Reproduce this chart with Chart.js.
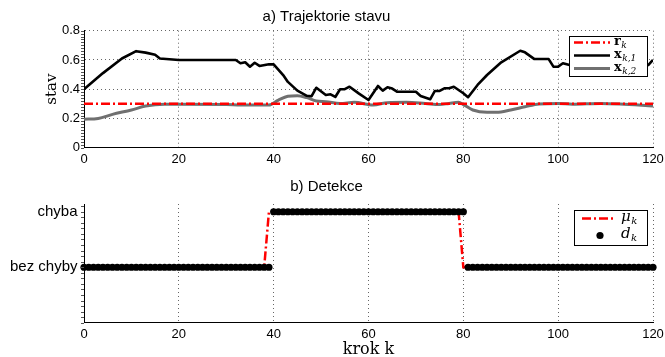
<!DOCTYPE html>
<html>
<head>
<meta charset="utf-8">
<script src="https://cdn.jsdelivr.net/npm/chart.js@4/dist/chart.umd.min.js"></script>
<style>
html,body{margin:0;padding:0;background:#fff;overflow:hidden;width:665px;height:357px;}
#w1{position:absolute;left:0;top:0;width:665px;height:175px;}
#w2{position:absolute;left:0;top:175px;width:665px;height:182px;}
</style>
</head>
<body>
<div id="w1"><canvas id="c1" width="665" height="175"></canvas></div>
<div id="w2"><canvas id="c2" width="665" height="182"></canvas></div>
<script>
// ---------- data (a) Trajektorie stavu ----------
const rSteps = [0, 120];
const rVals = [0.3, 0.3];
const x1Steps = [0,4,8,11,13,15,16,20,25,32,33,34,35,36,37,39,40,42,43,45,47,48,49,51,52,53,54,55,56,58,60,62,63,64,65,66,70,71,73,74,75,76,77,78,80,81,83,85,88,92,93,95,98,99,100,101,103,106,110,114,117,119,120];
const x1Vals = [0.40,0.51,0.61,0.66,0.65,0.635,0.61,0.60,0.60,0.60,0.577,0.584,0.554,0.581,0.559,0.57,0.57,0.497,0.45,0.39,0.355,0.352,0.41,0.36,0.365,0.347,0.40,0.40,0.417,0.37,0.326,0.422,0.39,0.413,0.404,0.383,0.383,0.354,0.331,0.388,0.388,0.406,0.406,0.417,0.372,0.345,0.429,0.497,0.584,0.663,0.652,0.606,0.606,0.554,0.554,0.577,0.56,0.57,0.56,0.57,0.55,0.565,0.60];
const x2Steps = [0,3,6,10,13,17,20,30,33,39,41,43,45,47,49,51,54,57,61,64,68,72,75,77,79,80,82,85,87,90,93,96,100,103,109,113,120];
const x2Vals = [0.195,0.20,0.228,0.258,0.285,0.297,0.297,0.296,0.292,0.292,0.326,0.352,0.356,0.342,0.319,0.315,0.303,0.31,0.292,0.308,0.31,0.302,0.295,0.303,0.31,0.295,0.258,0.242,0.242,0.258,0.28,0.299,0.303,0.297,0.303,0.299,0.285];
const stateTicksY = [0, 0.2, 0.4, 0.6, 0.8];

// ---------- data (b) Detekce ----------
const detSteps = Array.from({length: 121}, (_, i) => i);
const dVals = [
 0,0,0,0,0,0,0,0,0,0, 0,0,0,0,0,0,0,0,0,0, 0,0,0,0,0,0,0,0,0,0, 0,0,0,0,0,0,0,0,0,0,
 1,1,1,1,1,1,1,1,1,1, 1,1,1,1,1,1,1,1,1,1, 1,1,1,1,1,1,1,1,1,1, 1,1,1,1,1,1,1,1,1,1, 1,
 0,0,0,0,0,0,0,0,0,0, 0,0,0,0,0,0,0,0,0,0, 0,0,0,0,0,0,0,0,0,0, 0,0,0,0,0,0,0,0,0,0
];
const muVals = [
 0,0,0,0,0,0,0,0,0,0, 0,0,0,0,0,0,0,0,0,0, 0,0,0,0,0,0,0,0,0,0, 0,0,0,0,0,0,0,0,0,
 1,1,1,1,1,1,1,1,1,1, 1,1,1,1,1,1,1,1,1,1, 1,1,1,1,1,1,1,1,1,1, 1,1,1,1,1,1,1,1,1,1, 1,
 0,0,0,0,0,0,0,0,0,0, 0,0,0,0,0,0,0,0,0,0, 0,0,0,0,0,0,0,0,0,0, 0,0,0,0,0,0,0,0,0,0, 0
];
const detCategories = ['bez chyby', 'chyba'];
const xTicks = [0, 20, 40, 60, 80, 100, 120];

// ---------- helpers ----------
const zip = (xs, ys) => xs.map((x, i) => ({x: x, y: ys[i]}));
const SANS = '"Liberation Sans", Arial, sans-serif';
const SERIF = '"DejaVu Serif", "Liberation Serif", serif';
const RED = '#ff0000';
const DASHDOT = [9, 3, 2, 3];
const GRID = '#666666';

function labelWithSub(ctx, x, y, base, baseFont, sub, subFont) {
  ctx.font = baseFont;
  ctx.textAlign = 'left';
  ctx.textBaseline = 'middle';
  ctx.fillStyle = '#000';
  ctx.fillText(base, x, y);
  const w = ctx.measureText(base).width;
  ctx.font = subFont;
  ctx.fillText(sub, x + w + 0.5, y + 4);
}

const minorTicks = {
  id: 'minorTicks',
  afterDraw(chart, args, opts) {
    const ys = chart.scales.y;
    const ctx = chart.ctx;
    ctx.save();
    ctx.strokeStyle = '#555';
    ctx.lineWidth = 1;
    ctx.beginPath();
    const n = Math.round((opts.max - opts.min) / opts.step);
    for (let i = 0; i <= n; i++) {
      const v = opts.min + i * opts.step;
      const py = Math.round(ys.getPixelForValue(v)) + 0.5;
      ctx.moveTo(ys.right - 3, py);
      ctx.lineTo(ys.right, py);
    }
    ctx.stroke();
    ctx.restore();
  }
};

const legendTop = {
  id: 'legendTop',
  afterDraw(chart) {
    const ctx = chart.ctx;
    ctx.save();
    ctx.fillStyle = '#fff';
    ctx.fillRect(569.5, 36.5, 78, 40);
    ctx.strokeStyle = '#000';
    ctx.lineWidth = 1;
    ctx.strokeRect(569.5, 36.5, 78, 40);
    const rows = [42.5, 55.5, 68.5];
    const ds = chart.data.datasets;
    const subs = ['k', 'k,1', 'k,2'];
    const bases = ['r', 'x', 'x'];
    for (let i = 0; i < 3; i++) {
      ctx.beginPath();
      ctx.strokeStyle = ds[i].borderColor;
      ctx.lineWidth = ds[i].borderWidth;
      ctx.setLineDash(ds[i].borderDash || []);
      ctx.moveTo(574, rows[i]);
      ctx.lineTo(610, rows[i]);
      ctx.stroke();
      ctx.setLineDash([]);
      labelWithSub(ctx, 614, rows[i] - 1, bases[i], 'bold 13px ' + SERIF, subs[i], 'italic 9px ' + SERIF);
    }
    ctx.restore();
  }
};

const legendBottom = {
  id: 'legendBottom',
  afterDraw(chart) {
    const ctx = chart.ctx;
    ctx.save();
    ctx.fillStyle = '#fff';
    ctx.fillRect(574.5, 35.5, 73, 35);
    ctx.strokeStyle = '#000';
    ctx.lineWidth = 1;
    ctx.strokeRect(574.5, 35.5, 73, 35);
    ctx.beginPath();
    ctx.strokeStyle = RED;
    ctx.lineWidth = 2.5;
    ctx.setLineDash(DASHDOT);
    ctx.moveTo(582, 43.5);
    ctx.lineTo(613, 43.5);
    ctx.stroke();
    ctx.setLineDash([]);
    labelWithSub(ctx, 621, 42.5, 'μ', 'italic 15px ' + SERIF, 'k', 'italic 10px ' + SERIF);
    ctx.beginPath();
    ctx.fillStyle = '#000';
    ctx.arc(600, 60.5, 3.6, 0, Math.PI * 2);
    ctx.fill();
    labelWithSub(ctx, 621, 59.5, 'd', 'italic 15px ' + SERIF, 'k', 'italic 10px ' + SERIF);
    ctx.restore();
  }
};

function xScale(height) {
  return {
    type: 'linear', min: 0, max: 120,
    afterBuildTicks: s => { s.ticks = xTicks.map(v => ({value: v})); },
    ticks: {font: {family: SANS, size: 13}, color: '#000', padding: 4, maxRotation: 0, autoSkip: false},
    grid: {color: GRID, lineWidth: 1, drawTicks: false},
    border: {display: true, color: '#000', width: 1, dash: [1, 3]},
    afterFit: s => { s.height = height; s.paddingLeft = 0; s.paddingRight = 0; }
  };
}

// ---------- chart (a) ----------
new Chart(document.getElementById('c1'), {
  type: 'line',
  data: {
    datasets: [
      {label: 'r_k', data: zip(rSteps, rVals), borderColor: RED, borderWidth: 2.5, borderDash: DASHDOT, pointRadius: 0, order: 0},
      {label: 'x_{k,1}', data: zip(x1Steps, x1Vals), borderColor: '#000', borderWidth: 2.6, borderJoinStyle: 'round', pointRadius: 0, order: 1},
      {label: 'x_{k,2}', data: zip(x2Steps, x2Vals), borderColor: '#707070', borderWidth: 3, cubicInterpolationMode: 'monotone', pointRadius: 0, order: 2}
    ]
  },
  options: {
    responsive: false, animation: false, devicePixelRatio: 1,
    layout: {padding: {left: 0, right: 12, top: 0, bottom: 0}},
    plugins: {
      legend: {display: false}, tooltip: {enabled: false},
      title: {display: true, text: 'a) Trajektorie stavu', color: '#000', font: {family: SANS, size: 15, weight: 'normal', lineHeight: 1.2}, padding: {top: 8, bottom: 4.7}},
      minorTicks: {min: 0, max: 0.8, step: 0.02}
    },
    scales: {
      x: xScale(27.3),
      y: {
        type: 'linear', min: 0, max: 0.8,
        afterBuildTicks: s => { s.ticks = stateTicksY.map(v => ({value: v})); },
        ticks: {font: {family: SANS, size: 13}, color: '#000', padding: 4},
        grid: {color: GRID, lineWidth: 1, drawTicks: false},
        border: {display: true, color: '#000', width: 1, dash: [1, 3]},
        title: {display: true, text: 'stav', color: '#000', font: {family: SERIF, size: 15, lineHeight: 1.2}, padding: {top: 43, bottom: 0}},
        afterFit: s => { s.width = 84; s.paddingTop = 0; s.paddingBottom = 0; }
      }
    }
  },
  plugins: [minorTicks, legendTop]
});

// ---------- chart (b) ----------
new Chart(document.getElementById('c2'), {
  type: 'line',
  data: {
    datasets: [
      {label: 'd_k', data: zip(detSteps, dVals), showLine: false, pointRadius: 3.6, pointBackgroundColor: '#000', pointBorderWidth: 0, borderColor: '#000', clip: false, order: 0},
      {label: 'mu_k', data: zip(detSteps, muVals), borderColor: RED, borderWidth: 2.5, borderDash: DASHDOT, pointRadius: 0, order: 1}
    ]
  },
  options: {
    responsive: false, animation: false, devicePixelRatio: 1,
    layout: {padding: {left: 0, right: 12, top: 0, bottom: 0}},
    plugins: {
      legend: {display: false}, tooltip: {enabled: false},
      title: {display: true, text: 'b) Detekce', color: '#000', font: {family: SANS, size: 15, weight: 'normal', lineHeight: 1.2}, padding: {top: 3, bottom: 8}},
      minorTicks: {min: -1, max: 1.1, step: 0.1}
    },
    scales: {
      x: Object.assign(xScale(34.3), {
        title: {display: true, text: 'krok k', color: '#000', font: {family: SERIF, size: 16, lineHeight: 0.875}, padding: {top: 0, bottom: 0}}
      }),
      y: {
        type: 'linear', min: -1, max: 1.14,
        afterBuildTicks: s => { s.ticks = [{value: 0}, {value: 1}]; },
        ticks: {font: {family: SANS, size: 15}, color: '#000', padding: 6.5, callback: v => detCategories[v]},
        grid: {drawOnChartArea: false, drawTicks: false},
        border: {display: true, color: '#000', width: 1},
        afterFit: s => { s.width = 84; s.paddingTop = 0; s.paddingBottom = 0; }
      }
    }
  },
  plugins: [minorTicks, legendBottom]
});
</script>
</body>
</html>
